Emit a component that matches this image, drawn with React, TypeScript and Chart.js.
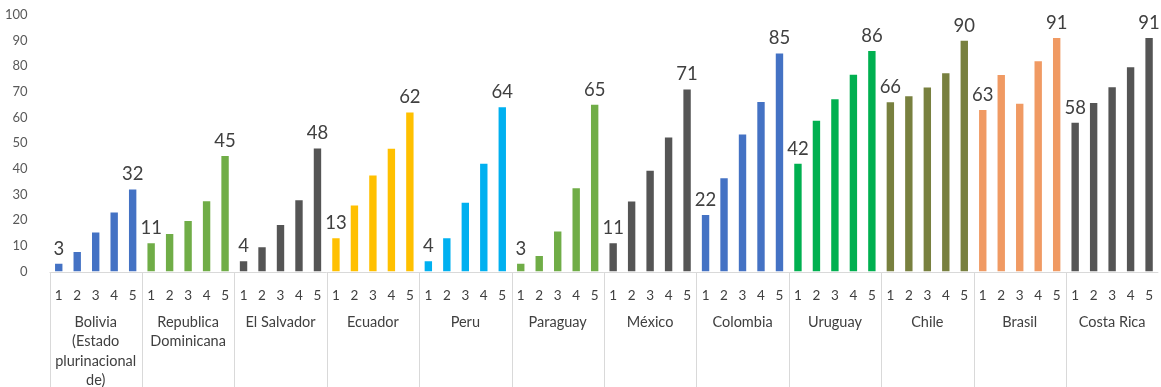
import React, { useEffect, useRef } from "react";
import { Chart, registerables } from "chart.js";

Chart.register(...registerables);

// Income quintiles shown under every country
const quintiles = ["1", "2", "3", "4", "5"];

// Country group labels (multi-line where the name wraps)
const countries: string[][] = [
  ["Bolivia", "(Estado", "plurinacional", "de)"],
  ["Republica", "Dominicana"],
  ["El Salvador"],
  ["Ecuador"],
  ["Peru"],
  ["Paraguay"],
  ["México"],
  ["Colombia"],
  ["Uruguay"],
  ["Chile"],
  ["Brasil"],
  ["Costa Rica"],
];

// Values by quintile (1 → 5) for each country
const bolivia = [3, 7.6, 15.2, 23, 32];
const republicaDominicana = [11, 14.6, 19.7, 27.4, 45];
const elSalvador = [4, 9.5, 18.1, 27.8, 48];
const ecuador = [13, 25.7, 37.4, 47.9, 62];
const peru = [4, 13, 26.8, 42, 64];
const paraguay = [3, 6, 15.6, 32.5, 65];
const mexico = [11, 27.3, 39.3, 52.2, 71];
const colombia = [22, 36.4, 53.4, 66.1, 85];
const uruguay = [42, 58.8, 67.2, 76.7, 86];
const chile = [66, 68.3, 71.7, 77.3, 90];
const brasil = [63, 76.6, 65.4, 82, 91];
const costaRica = [58, 65.7, 71.8, 79.6, 91];

const seriesByCountry = [
  bolivia,
  republicaDominicana,
  elSalvador,
  ecuador,
  peru,
  paraguay,
  mexico,
  colombia,
  uruguay,
  chile,
  brasil,
  costaRica,
];

// Y axis range
const yMin = 0;
const yMax = 100;
const yStep = 10;

// Bar colour per country
const countryColors = [
  "#4472C4",
  "#70AD47",
  "#555555",
  "#FFC000",
  "#00B0F0",
  "#70AD47",
  "#555555",
  "#4472C4",
  "#00B050",
  "#78803F",
  "#F09A63",
  "#555555",
];

const FONT = "Lato, 'Noto Sans', sans-serif";

const groupPlugin = {
  id: "groupLabels",
  afterDraw(chart: any) {
    const { ctx, chartArea } = chart;
    const x = chart.scales.x;
    const per = quintiles.length;
    ctx.save();

    // baseline
    ctx.strokeStyle = "#d9d9d9";
    ctx.lineWidth = 1;
    const by = Math.round(chartArea.bottom) + 0.5;
    ctx.beginPath();
    ctx.moveTo(chartArea.left, by);
    ctx.lineTo(chartArea.right, by);
    ctx.stroke();

    // separators between country groups
    for (let g = 0; g < countries.length; g++) {
      const px =
        g === 0
          ? x.left
          : (x.getPixelForValue(g * per - 1) + x.getPixelForValue(g * per)) / 2;
      const sx = Math.round(px) + 0.5;
      ctx.beginPath();
      ctx.moveTo(sx, by);
      ctx.lineTo(sx, chart.height);
      ctx.stroke();
    }

    // country names
    ctx.fillStyle = "#404040";
    ctx.font = `14.5px ${FONT}`;
    ctx.textAlign = "center";
    ctx.textBaseline = "middle";
    countries.forEach((lines, g) => {
      const cx =
        (x.getPixelForValue(g * per) + x.getPixelForValue(g * per + per - 1)) / 2;
      lines.forEach((line, i) => {
        ctx.fillText(line, cx, chartArea.bottom + 50.5 + i * 19.5);
      });
    });

    // value labels on the first and last quintile of each country
    const meta = chart.getDatasetMeta(0);
    const data = chart.data.datasets[0].data as number[];
    ctx.font = `18.5px ${FONT}`;
    ctx.textBaseline = "middle";
    countries.forEach((_, g) => {
      [g * per, g * per + per - 1].forEach((idx) => {
        const bar = meta.data[idx];
        ctx.fillText(String(Math.round(data[idx])), bar.x, bar.y - 15);
      });
    });

    ctx.restore();
  },
};

export default function App() {
  const canvasRef = useRef<HTMLCanvasElement>(null);

  useEffect(() => {
    const canvas = canvasRef.current;
    if (!canvas) return;

    const labels = countries.flatMap(() => quintiles);
    const values = seriesByCountry.flat();
    const colors = countryColors.flatMap((c) => quintiles.map(() => c));

    const chart = new Chart(canvas, {
      type: "bar",
      data: {
        labels,
        datasets: [
          {
            data: values,
            backgroundColor: colors,
            borderWidth: 0,
            barPercentage: 0.4,
            categoryPercentage: 1,
          },
        ],
      },
      options: {
        responsive: false,
        animation: false,
        layout: { padding: { top: 15, left: 0, right: 0, bottom: 0 } },
        plugins: {
          legend: { display: false },
          tooltip: { enabled: false },
        },
        scales: {
          x: {
            grid: { display: false },
            border: { display: false },
            ticks: {
              autoSkip: false,
              maxRotation: 0,
              minRotation: 0,
              padding: 8,
              color: "#404040",
              font: { family: FONT, size: 13.5 },
            },
            afterFit: (scale: any) => {
              scale.height = 115.5;
            },
          },
          y: {
            min: yMin,
            max: yMax,
            grid: { display: false },
            border: { display: false },
            ticks: {
              stepSize: yStep,
              padding: 14,
              color: "#595959",
              font: { family: FONT, size: 13 },
            },
            afterFit: (scale: any) => {
              scale.width = 49.5;
              scale.paddingTop = 7;
              scale.paddingBottom = 7;
            },
          },
        },
      },
      plugins: [groupPlugin],
    });

    return () => chart.destroy();
  }, []);

  return (
    <div
      style={{
        position: "fixed",
        left: 0,
        top: 0,
        width: 1161,
        height: 387,
        background: "#ffffff",
      }}
    >
      <canvas ref={canvasRef} width={1161} height={387} style={{ display: "block" }} />
    </div>
  );
}
